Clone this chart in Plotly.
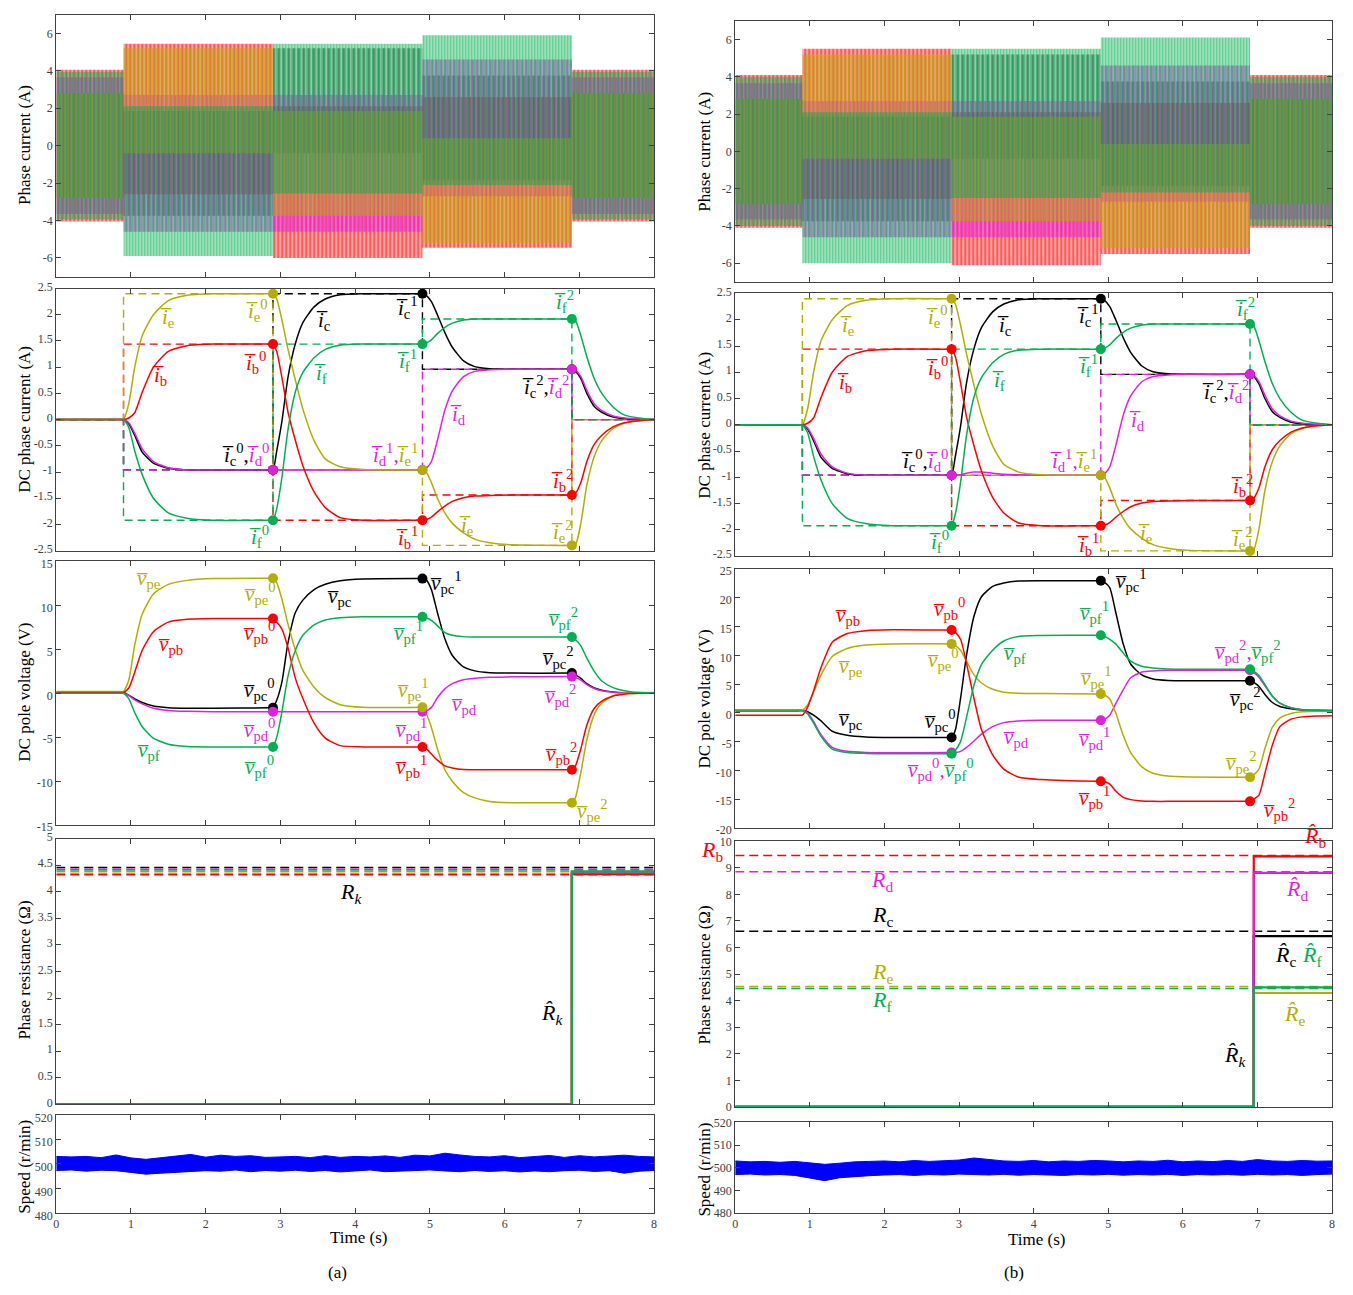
import plotly.graph_objects as go

W, H = 1353, 1295

# ======================= DATA =======================
seg_edges = [0, 0.9, 2.9, 4.9, 6.9, 8.0]
event_times = [2.9, 4.9, 6.9]

# --- phase current envelopes per segment (A) : (a)
a_ib_lo = [-4.05, -2.6, -6.0, -5.45, -4.05]
a_ib_hi = [4.05, 5.45, 2.1, 2.6, 4.05]
a_ic_lo = [-2.8, -3.75, -0.4, -1.85, -2.8]
a_ic_hi = [2.8, 1.85, 5.2, 3.75, 2.8]
a_id_lo = [-3.65, -4.6, -4.6, -2.7, -3.65]
a_id_hi = [3.65, 2.7, 2.7, 4.6, 3.65]
a_ie_lo = [-2.8, -0.4, -3.75, -5.2, -2.8]
a_ie_hi = [2.8, 5.2, 1.85, 0.4, 2.8]
a_if_lo = [-3.95, -5.9, -2.55, -2.1, -3.95]
a_if_hi = [3.95, 2.1, 5.45, 5.9, 3.95]
# --- phase current envelopes per segment (A) : (b)
b_ib_lo = [-4.1, -2.55, -6.1, -5.5, -4.1]
b_ib_hi = [4.1, 5.5, 2.1, 2.6, 4.1]
b_ic_lo = [-2.8, -3.75, -0.4, -1.85, -2.8]
b_ic_hi = [2.8, 1.85, 5.2, 3.75, 2.8]
b_id_lo = [-3.65, -4.6, -4.6, -2.7, -3.65]
b_id_hi = [3.65, 2.7, 2.7, 4.6, 3.65]
b_ie_lo = [-2.8, -0.4, -3.75, -5.2, -2.8]
b_ie_hi = [2.8, 5.2, 1.85, 0.4, 2.8]
b_if_lo = [-4.0, -6.0, -2.5, -2.2, -4.0]
b_if_hi = [4.0, 2.1, 5.5, 6.1, 4.0]

# --- DC phase current references per segment (A)
ref_ib = [0, 1.44, -1.92, -1.44, 0]
ref_ic = [0, -0.96, 2.4, 0.96, 0]
ref_id = [0, -0.96, -0.96, 0.96, 0]
ref_ie = [0, 2.4, -0.96, -2.4, 0]
ref_if = [0, -1.92, 1.44, 1.92, 0]

# --- time samples for DC curves (s)
t_dc = [0, 0.85, 0.9, 0.97, 1.05, 1.15, 1.3, 1.5, 1.75, 2.1,
        2.85, 2.9, 2.95, 3.02, 3.1, 3.2, 3.3, 3.45, 3.6, 3.8, 4.1,
        4.85, 4.9, 4.95, 5.02, 5.1, 5.2, 5.3, 5.45, 5.6, 5.8, 6.1,
        6.85, 6.9, 6.95, 7.02, 7.1, 7.2, 7.3, 7.45, 7.6, 7.8, 8.0]

# --- DC phase currents (A)
dc_ib = [0, 0, 0, 0.03, 0.13, 0.52, 1.0, 1.3, 1.41, 1.44,
         1.44, 1.44, 1.3, 0.8, 0.15, -0.4, -0.88, -1.38, -1.68, -1.87, -1.92,
         -1.92, -1.92, -1.91, -1.86, -1.76, -1.65, -1.56, -1.49, -1.46, -1.45, -1.44,
         -1.44, -1.44, -1.4, -1.2, -0.8, -0.47, -0.3, -0.14, -0.06, -0.02, 0]
dc_ic = [0, 0, 0, -0.08, -0.3, -0.62, -0.83, -0.93, -0.96, -0.96,
         -0.96, -0.96, -0.6, -0.03, 0.8, 1.45, 1.85, 2.15, 2.3, 2.38, 2.4,
         2.4, 2.4, 2.37, 2.25, 2.0, 1.66, 1.38, 1.12, 1.01, 0.97, 0.96,
         0.96, 0.96, 0.92, 0.78, 0.5, 0.25, 0.14, 0.05, 0.02, 0.0, 0]
dc_id_a = [0, 0, 0, -0.06, -0.26, -0.56, -0.8, -0.92, -0.96, -0.96,
           -0.96, -0.96, -0.96, -0.96, -0.96, -0.96, -0.96, -0.96, -0.96, -0.96, -0.96,
           -0.96, -0.96, -0.93, -0.8, -0.4, 0.18, 0.55, 0.82, 0.92, 0.95, 0.96,
           0.96, 0.96, 0.94, 0.82, 0.56, 0.3, 0.17, 0.07, 0.03, 0.01, 0]
dc_id_b = [0, 0, 0, -0.06, -0.26, -0.56, -0.8, -0.92, -0.96, -0.96,
           -0.96, -0.96, -0.96, -0.95, -0.92, -0.9, -0.9, -0.92, -0.94, -0.95, -0.96,
           -0.96, -0.96, -0.93, -0.8, -0.4, 0.18, 0.55, 0.82, 0.92, 0.95, 0.96,
           0.96, 0.96, 0.94, 0.82, 0.56, 0.3, 0.17, 0.07, 0.03, 0.01, 0]
dc_ie = [0, 0, 0, 0.3, 1.0, 1.6, 2.0, 2.27, 2.37, 2.4,
         2.4, 2.4, 2.3, 1.9, 1.35, 0.75, 0.2, -0.4, -0.75, -0.9, -0.95,
         -0.96, -0.96, -1.0, -1.2, -1.5, -1.78, -1.98, -2.16, -2.28, -2.35, -2.39,
         -2.4, -2.4, -2.38, -1.98, -1.25, -0.7, -0.4, -0.17, -0.07, -0.02, 0]
dc_if = [0, 0, 0, -0.15, -0.6, -1.05, -1.5, -1.78, -1.88, -1.92,
         -1.92, -1.92, -1.7, -1.1, -0.2, 0.53, 0.9, 1.18, 1.34, 1.42, 1.44,
         1.44, 1.44, 1.46, 1.52, 1.64, 1.76, 1.84, 1.9, 1.92, 1.92, 1.92,
         1.92, 1.92, 1.88, 1.6, 1.2, 0.78, 0.5, 0.24, 0.09, 0.03, 0]

# --- DC pole voltages (V) : (a)
a_vpb = [0.1, 0.1, 0.1, 0.6, 2.4, 4.9, 7.0, 8.1, 8.42, 8.5,
         8.5, 8.5, 8.1, 7.3, 5.2, 1.7, -0.6, -3.4, -5.1, -5.95, -6.1,
         -6.1, -6.1, -6.3, -6.9, -7.6, -8.25, -8.5, -8.68, -8.7, -8.7, -8.7,
         -8.7, -8.7, -8.2, -6.3, -3.6, -1.7, -0.9, -0.3, -0.1, 0.0, 0.0]
a_vpc = [0.1, 0.1, 0.1, -0.2, -0.65, -1.05, -1.45, -1.63, -1.7, -1.7,
         -1.65, -1.65, -0.8, 1.3, 5.7, 9.2, 10.6, 11.8, 12.4, 12.8, 13.0,
         13.05, 13.05, 12.9, 11.8, 9.2, 6.2, 4.3, 3.0, 2.55, 2.35, 2.3,
         2.3, 2.3, 2.1, 1.7, 1.1, 0.6, 0.35, 0.15, 0.05, 0.0, 0.0]
a_vpd = [0, 0, 0, -0.25, -0.75, -1.2, -1.7, -1.95, -2.05, -2.1,
         -2.1, -2.1, -2.1, -2.1, -2.1, -2.1, -2.1, -2.1, -2.1, -2.1, -2.1,
         -2.1, -2.1, -2.0, -1.6, -0.5, 0.5, 1.1, 1.55, 1.72, 1.82, 1.87,
         1.9, 1.9, 1.8, 1.5, 1.0, 0.55, 0.3, 0.12, 0.05, 0.0, 0.0]
a_vpe = [0.2, 0.2, 0.2, 1.5, 5.5, 9.0, 11.3, 12.4, 12.85, 13.05,
         13.1, 13.1, 12.6, 10.7, 7.9, 4.9, 2.6, 0.7, -0.5, -1.3, -1.6,
         -1.6, -1.6, -2.3, -3.9, -6.3, -8.7, -10.0, -11.3, -11.9, -12.3, -12.45,
         -12.45, -12.45, -11.8, -9.0, -5.3, -2.4, -1.1, -0.3, 0.0, 0.1, 0.1]
a_vpf = [0, 0, 0, -0.6, -2.2, -3.8, -5.1, -5.8, -6.05, -6.1,
         -6.1, -6.1, -5.0, -2.1, 1.9, 4.9, 6.6, 7.8, 8.35, 8.6, 8.7,
         8.7, 8.7, 8.6, 8.3, 7.7, 6.9, 6.6, 6.45, 6.4, 6.4, 6.4,
         6.4, 6.4, 6.1, 5.4, 4.0, 2.5, 1.4, 0.65, 0.3, 0.1, 0.05]
# --- DC pole voltages (V) : (b)
b_vpb = [-0.4, -0.4, -0.4, 1.0, 3.8, 7.9, 12.3, 13.8, 14.3, 14.45,
         14.4, 14.4, 14.0, 12.8, 8.6, 2.5, -2.9, -7.3, -9.8, -11.2, -11.6,
         -11.9, -11.9, -12.0, -12.4, -13.6, -14.7, -15.1, -15.35, -15.4, -15.4, -15.4,
         -15.4, -15.4, -15.0, -14.3, -10.5, -5.6, -2.4, -1.1, -0.7, -0.55, -0.5]
b_vpc = [0.5, 0.5, 0.5, 0.2, -0.4, -1.4, -3.2, -3.9, -4.2, -4.3,
         -4.3, -4.3, -3.0, 2.5, 10.0, 16.8, 20.2, 22.0, 22.6, 22.95, 23.0,
         23.0, 23.0, 22.7, 21.8, 17.5, 12.0, 8.5, 6.6, 5.9, 5.65, 5.6,
         5.6, 5.6, 5.3, 4.6, 3.2, 1.8, 1.1, 0.7, 0.5, 0.45, 0.4]
b_vpd = [0.5, 0.5, 0.5, 0.0, -1.5, -3.8, -6.0, -6.7, -6.9, -6.95,
         -6.9, -6.9, -6.9, -6.7, -6.0, -4.9, -3.7, -2.4, -1.7, -1.4, -1.3,
         -1.3, -1.3, -1.1, -0.4, 1.6, 4.0, 6.1, 7.1, 7.3, 7.4, 7.4,
         7.4, 7.4, 7.0, 6.2, 4.7, 2.9, 1.7, 0.9, 0.55, 0.4, 0.4]
b_vpe = [0.5, 0.5, 0.5, 1.4, 3.6, 6.6, 9.8, 11.2, 11.8, 12.0,
         12.0, 12.0, 11.7, 10.9, 9.0, 6.6, 5.2, 4.1, 3.6, 3.4, 3.35,
         3.3, 3.3, 3.1, 2.4, 0.0, -3.9, -6.9, -9.4, -10.5, -11.0, -11.15,
         -11.2, -11.2, -10.8, -9.8, -6.2, -2.5, -0.9, -0.1, 0.2, 0.3, 0.3]
b_vpf = [0.3, 0.3, 0.3, -0.2, -1.8, -4.1, -6.3, -6.9, -7.05, -7.1,
         -7.1, -7.1, -6.5, -5.0, -0.8, 4.8, 8.4, 10.9, 12.5, 13.3, 13.45,
         13.5, 13.5, 13.3, 12.8, 12.0, 10.4, 9.0, 8.1, 7.8, 7.65, 7.6,
         7.6, 7.6, 7.2, 6.5, 4.9, 2.9, 1.7, 0.9, 0.55, 0.4, 0.35]

# --- phase resistances (ohm): true values and estimates
a_R_true = {'b': 4.32, 'c': 4.455, 'd': 4.425, 'e': 4.35, 'f': 4.39}
a_R_est = {'b': 4.33, 'c': 4.36, 'd': 4.37, 'e': 4.34, 'f': 4.385}
b_R_true = {'b': 9.47, 'c': 6.61, 'd': 8.85, 'e': 4.53, 'f': 4.46}
b_R_est = {'b': 9.43, 'c': 6.43, 'd': 8.81, 'e': 4.29, 'f': 4.5}
a_t_est = 6.9
b_t_est = 6.95

# --- speed envelope (r/min)
t_spd = [0, 0.2, 0.4, 0.6, 0.8, 1.0, 1.2, 1.4, 1.6, 1.8, 2.0, 2.2, 2.4, 2.6, 2.8, 3.0,
         3.2, 3.4, 3.6, 3.8, 4.0, 4.2, 4.4, 4.6, 4.8, 5.0, 5.2, 5.4, 5.6, 5.8, 6.0,
         6.2, 6.4, 6.6, 6.8, 7.0, 7.2, 7.4, 7.6, 7.8, 8.0]
a_spd_hi = [503.0, 502.8, 503.0, 502.5, 503.6, 502.4, 501.8, 502.5, 503.2, 503.8, 502.7,
            503.5, 503.0, 503.3, 502.6, 502.8, 503.0, 502.5, 503.3, 502.6, 503.0, 502.8,
            503.2, 502.6, 503.5, 503.2, 504.3, 503.6, 503.0, 502.8, 503.3, 502.5, 503.0,
            503.4, 502.6, 503.3, 502.8, 503.2, 503.5, 503.0, 502.8]
a_spd_lo = [497.3, 497.5, 497.0, 497.4, 497.2, 496.5, 495.8, 496.2, 496.5, 497.0, 497.2,
            497.0, 497.5, 496.8, 497.3, 497.0, 497.4, 496.9, 497.3, 496.7, 497.0, 497.5,
            496.8, 497.1, 497.3, 497.5, 497.1, 496.8, 497.3, 496.9, 497.2, 496.7, 497.1,
            496.8, 497.2, 497.4, 496.9, 497.2, 496.2, 497.0, 497.3]
b_spd_hi = [503.0, 502.6, 502.8, 502.4, 502.8, 502.0, 501.5, 502.0, 502.6, 502.8, 503.0,
            502.6, 503.2, 502.8, 503.0, 503.4, 504.3, 503.5, 503.0, 502.8, 503.2, 502.6,
            503.0, 502.8, 503.2, 503.0, 502.6, 503.0, 502.8, 503.3, 502.6, 503.0, 502.7,
            503.2, 502.8, 503.6, 503.0, 502.8, 503.2, 502.9, 503.0]
b_spd_lo = [497.0, 497.2, 496.8, 497.0, 496.6, 495.5, 494.3, 495.6, 496.2, 496.5, 496.8,
            497.0, 496.6, 497.0, 496.8, 497.2, 497.0, 496.8, 497.1, 496.7, 497.0, 496.9,
            496.6, 497.0, 496.8, 497.1, 496.7, 497.0, 496.8, 497.1, 496.6, 497.0, 496.8,
            497.0, 496.7, 497.1, 496.8, 497.0, 496.6, 497.0, 497.2]

# ======================= STYLE =======================
COL = {'b': '#FF0000', 'c': '#000000', 'd': '#E11FE1', 'e': '#B3AD00', 'f': '#00B050'}
RGB = {'b': (255, 0, 0), 'c': (0, 0, 0), 'd': (225, 31, 225), 'e': (179, 173, 0), 'f': (0, 176, 80)}
TINT = {'b': 0.35, 'c': 0.12, 'd': 0.38, 'e': 0.35, 'f': 0.33}
SERIF = 'Liberation Serif'
OV = '\u0305'
HAT = '\u0302'
TICKC = '#404040'

col_px = [(53.5, 654.0), (735.5, 1335.0)]
row_px = [[(5.7, 271.7), (283.7, 549.7), (560.7, 828.3), (842.0, 1111.7), (1122.0, 1222.0)],
          [(12.0, 277.0), (288.7, 555.3), (568.5, 831.0), (844.7, 1114.3), (1130.0, 1222.0)]]
y_ranges = [[(-7, 7), (-2.5, 2.5), (-15, 15), (0, 5), (480, 520)],
            [(-7, 7), (-2.5, 2.5), (-20, 25), (0, 10), (480, 520)]]
y_ticks = [[[-6, -4, -2, 0, 2, 4, 6],
            [-2.5, -2, -1.5, -1, -0.5, 0, 0.5, 1, 1.5, 2, 2.5],
            [-15, -10, -5, 0, 5, 10, 15],
            [0, 0.5, 1, 1.5, 2, 2.5, 3, 3.5, 4, 4.5, 5],
            [480, 490, 500, 510, 520]],
           [[-6, -4, -2, 0, 2, 4, 6],
            [-2.5, -2, -1.5, -1, -0.5, 0, 0.5, 1, 1.5, 2, 2.5],
            [-20, -15, -10, -5, 0, 5, 10, 15, 20, 25],
            [0, 1, 2, 3, 4, 5, 6, 7, 8, 9, 10],
            [480, 490, 500, 510, 520]]]
# small pixel nudges (screen-down positive) so labels of stacked panels do not collide
label_shift = [[0, -2, 2, -2, 3], [0, -2, 2, 0, 0]]
x_ticks = [0, 1, 2, 3, 4, 5, 6, 7, 8]


def fmt(v):
    return '%g' % v  # plain hyphen-minus as in the reference


fig = go.Figure()
layout = dict(width=W, height=H, margin=dict(l=0, r=0, t=0, b=0),
              paper_bgcolor='white', plot_bgcolor='white', showlegend=False)


def axid(p, r):
    return p * 5 + r + 1


def xname(i):
    return 'x' if i == 1 else 'x%d' % i


def yname(i):
    return 'y' if i == 1 else 'y%d' % i


for p in range(2):
    for r in range(5):
        i = axid(p, r)
        x0, x1 = col_px[p]
        y0, y1 = row_px[p][r]
        layout['xaxis' if i == 1 else 'xaxis%d' % i] = dict(
            domain=[x0 / W, x1 / W], anchor=yname(i), range=[0, 8],
            tickvals=x_ticks, ticktext=[fmt(v) for v in x_ticks],
            showticklabels=(r == 4), ticks='inside', ticklen=5, tickcolor=TICKC,
            showline=True, linecolor=TICKC, linewidth=1, mirror='ticks',
            showgrid=False, zeroline=False,
            tickfont=dict(family=SERIF, size=12, color=TICKC))
        layout['yaxis' if i == 1 else 'yaxis%d' % i] = dict(
            domain=[1 - y1 / H, 1 - y0 / H], anchor=xname(i), range=list(y_ranges[p][r]),
            tickvals=y_ticks[p][r], ticktext=[fmt(v) for v in y_ticks[p][r]],
            ticks='inside', ticklen=5, tickcolor=TICKC, ticklabelshift=label_shift[p][r],
            showline=True, linecolor=TICKC, linewidth=1, mirror='ticks',
            showgrid=False, zeroline=False,
            tickfont=dict(family=SERIF, size=12, color=TICKC))


def add(tr, i):
    tr.xaxis = xname(i)
    tr.yaxis = yname(i)
    fig.add_trace(tr)


# ---------- row 1 : phase currents (envelopes of the dense sinusoids) ----------
env = {0: {'b': (a_ib_lo, a_ib_hi), 'c': (a_ic_lo, a_ic_hi), 'd': (a_id_lo, a_id_hi),
           'e': (a_ie_lo, a_ie_hi), 'f': (a_if_lo, a_if_hi)},
       1: {'b': (b_ib_lo, b_ib_hi), 'c': (b_ic_lo, b_ic_hi), 'd': (b_id_lo, b_id_hi),
           'e': (b_ie_lo, b_ie_hi), 'f': (b_if_lo, b_if_hi)}}
pat_size = {'b': 4, 'c': 5, 'd': 4.5, 'e': 3.5, 'f': 3}
for p in range(2):
    for ph in ['b', 'c', 'd', 'e', 'f']:
        lo, hi = env[p][ph]
        xs, ys = [], []
        for k in range(len(lo)):
            xs += [seg_edges[k], seg_edges[k + 1]]
            ys += [hi[k], hi[k]]
        for k in reversed(range(len(lo))):
            xs += [seg_edges[k + 1], seg_edges[k]]
            ys += [lo[k], lo[k]]
        rr, gg, bb = RGB[ph]
        add(go.Scatter(x=xs, y=ys, mode='lines', fill='toself', line=dict(width=0),
                       fillcolor='rgba(%d,%d,%d,%.2f)' % (rr, gg, bb, TINT[ph]),
                       fillpattern=dict(shape='|', fgcolor=COL[ph], fillmode='overlay',
                                        size=pat_size[ph], solidity=0.45)), axid(p, 0))

# ---------- rows 2 and 3 : DC phase currents and DC pole voltages ----------
refs = {'b': ref_ib, 'c': ref_ic, 'd': ref_id, 'e': ref_ie, 'f': ref_if}
dc = {0: {'b': dc_ib, 'c': dc_ic, 'd': dc_id_a, 'e': dc_ie, 'f': dc_if},
      1: {'b': dc_ib, 'c': dc_ic, 'd': dc_id_b, 'e': dc_ie, 'f': dc_if}}
volt = {0: {'b': a_vpb, 'c': a_vpc, 'd': a_vpd, 'e': a_vpe, 'f': a_vpf},
        1: {'b': b_vpb, 'c': b_vpc, 'd': b_vpd, 'e': b_vpe, 'f': b_vpf}}
order = ['c', 'd', 'e', 'b', 'f']
ev_idx = [t_dc.index(t) for t in event_times]
for p in range(2):
    i = axid(p, 1)
    for ph in ['b', 'c', 'd', 'e', 'f']:
        ref = refs[ph]
        add(go.Scatter(x=seg_edges, y=ref + [ref[-1]], mode='lines', line_shape='hv',
                       line=dict(color=COL[ph], width=1.4, dash='8px,5px')), i)
    for ph in order:
        add(go.Scatter(x=t_dc, y=dc[p][ph], mode='lines', line_shape='spline',
                       line=dict(color=COL[ph], width=1.5, smoothing=0.6)), i)
    for ph in order:
        add(go.Scatter(x=[t_dc[j] for j in ev_idx], y=[dc[p][ph][j] for j in ev_idx],
                       mode='markers', marker=dict(color=COL[ph], size=10)), i)
    i = axid(p, 2)
    for ph in order:
        add(go.Scatter(x=t_dc, y=volt[p][ph], mode='lines', line_shape='spline',
                       line=dict(color=COL[ph], width=1.5, smoothing=0.6)), i)
    for ph in order:
        add(go.Scatter(x=[t_dc[j] for j in ev_idx], y=[volt[p][ph][j] for j in ev_idx],
                       mode='markers', marker=dict(color=COL[ph], size=10)), i)

# ---------- row 4 : resistances ----------
Rt = {0: a_R_true, 1: b_R_true}
Re = {0: a_R_est, 1: b_R_est}
test = {0: a_t_est, 1: b_t_est}
r_order = {0: ['c', 'd', 'e', 'b', 'f'], 1: ['b', 'c', 'e', 'd', 'f']}
for p in range(2):
    i = axid(p, 3)
    for ph in r_order[p]:
        v = Rt[p][ph]
        add(go.Scatter(x=[0, 8], y=[v, v], mode='lines',
                       line=dict(color=COL[ph], width=1.5, dash='9px,5px')), i)
    for ph in r_order[p]:
        v = Re[p][ph]
        te = test[p]
        add(go.Scatter(x=[0, te, te, 8], y=[0, 0, v, v], mode='lines',
                       line=dict(color=COL[ph], width=2.2)), i)

# ---------- row 5 : speed ----------
spd = {0: (a_spd_lo, a_spd_hi), 1: (b_spd_lo, b_spd_hi)}
for p in range(2):
    i = axid(p, 4)
    lo, hi = spd[p]
    add(go.Scatter(x=t_spd, y=lo, mode='lines', line=dict(color='#0000FF', width=1)), i)
    add(go.Scatter(x=t_spd, y=hi, mode='lines', fill='tonexty', fillcolor='#0000FF',
                   line=dict(color='#0000FF', width=1)), i)

# ======================= ANNOTATIONS =======================
anns = []
LS = 21


def lab(i, t, v, text, color, size=LS, yanchor='middle'):
    anns.append(dict(x=t, y=v, xref=xname(i), yref=yname(i), text=text, showarrow=False,
                     xanchor='center', yanchor=yanchor,
                     font=dict(family=SERIF, size=size, color=color)))


def ib(s, sup=None):
    t = '<i>i' + OV + '</i><sub>' + s + '</sub>'
    if sup is not None:
        t += '<sup>' + str(sup) + '</sup>'
    return t


def vb(s, sup=None):
    t = '<i>v' + OV + '</i><sub>p' + s + '</sub>'
    if sup is not None:
        t += '<sup>' + str(sup) + '</sup>'
    return t


def colored(txt, ph):
    return '<span style="color:%s">%s</span>' % (COL[ph], txt)


cur_labels = {
    0: [(1.49, 1.94, ib('e'), 'e'), (2.69, 2.09, ib('e', 0), 'e'), (1.38, 0.83, ib('b'), 'b'),
        (2.66, 1.09, ib('b', 0), 'b'), (3.58, 1.88, ib('c'), 'c'), (3.53, 0.87, ib('f'), 'f'),
        (4.70, 2.14, ib('c', 1), 'c'), (4.69, 1.13, ib('f', 1), 'f'), (6.79, 2.26, ib('f', 2), 'f'),
        (5.38, 0.08, ib('d'), 'd'), (2.71, -2.23, ib('f', 0), 'f'), (6.77, -1.16, ib('b', 2), 'b'),
        (4.69, -2.25, ib('b', 1), 'b'), (5.49, -2.03, ib('e'), 'e'), (6.77, -2.14, ib('e', 2), 'e')],
    1: [(1.50, 1.88, ib('e'), 'e'), (2.70, 2.06, ib('e', 0), 'e'), (1.46, 0.79, ib('b'), 'b'),
        (2.70, 1.09, ib('b', 0), 'b'), (3.61, 1.88, ib('c'), 'c'), (3.53, 0.84, ib('f'), 'f'),
        (4.73, 2.08, ib('c', 1), 'c'), (4.73, 1.13, ib('f', 1), 'f'), (6.83, 2.21, ib('f', 2), 'f'),
        (5.39, 0.08, ib('d'), 'd'), (2.73, -2.23, ib('f', 0), 'f'), (6.79, -1.16, ib('b', 2), 'b'),
        (4.73, -2.27, ib('b', 1), 'b'), (5.50, -2.08, ib('e'), 'e'), (6.79, -2.16, ib('e', 2), 'e')]}
pair_cur = {0: [(6.55, 0.64, 'c', 'd', 2), (2.53, -0.67, 'c', 'd', 0), (4.53, -0.67, 'd', 'e', 1)],
            1: [(6.57, 0.64, 'c', 'd', 2), (2.54, -0.68, 'c', 'd', 0), (4.53, -0.68, 'd', 'e', 1)]}
for p in range(2):
    i = axid(p, 1)
    for t, v, txt, ph in cur_labels[p]:
        lab(i, t, v, txt, COL[ph])
    for t, v, p1, p2, s in pair_cur[p]:
        lab(i, t, v, ib(p1, s) + ',' + colored(ib(p2, s), p2), COL[p1])

volt_labels = {
    0: [(1.23, 13.0, vb('e'), 'e'), (2.73, 11.4, vb('e', 0), 'e'), (1.53, 5.5, vb('b'), 'b'),
        (2.71, 6.9, vb('b', 0), 'b'), (3.79, 11.0, vb('c'), 'c'), (5.21, 12.6, vb('c', 1), 'c'),
        (4.71, 6.9, vb('f', 1), 'f'), (6.78, 8.5, vb('f', 2), 'f'), (6.71, 4.1, vb('c', 2), 'c'),
        (2.71, 0.4, vb('c', 0), 'c'), (4.77, 0.4, vb('e', 1), 'e'), (5.45, -1.3, vb('d'), 'd'),
        (6.74, -0.3, vb('d', 2), 'd'), (2.71, -4.1, vb('d', 0), 'd'), (4.75, -4.1, vb('d', 1), 'd'),
        (1.23, -6.6, vb('f'), 'f'), (2.71, -8.3, vb('f', 0), 'f'), (4.75, -8.3, vb('b', 1), 'b'),
        (6.75, -6.9, vb('b', 2), 'b'), (7.17, -13.3, vb('e', 2), 'e')],
    1: [(1.50, 16.9, vb('b'), 'b'), (2.86, 18.2, vb('b', 0), 'b'), (1.55, 7.9, vb('e'), 'e'),
        (2.78, 9.3, vb('e', 0), 'e'), (1.54, -1.3, vb('c'), 'c'), (2.75, -1.3, vb('c', 0), 'c'),
        (3.74, 10.3, vb('f'), 'f'), (5.30, 23.0, vb('c', 1), 'c'), (4.81, 17.5, vb('f', 1), 'f'),
        (4.83, 6.2, vb('e', 1), 'e'), (3.77, -4.4, vb('d'), 'd'), (4.81, -4.4, vb('d', 1), 'd'),
        (4.81, -14.7, vb('b', 1), 'b'), (6.83, 2.5, vb('c', 2), 'c'), (6.78, -8.7, vb('e', 2), 'e'),
        (7.29, -16.8, vb('b', 2), 'b')]}
for p in range(2):
    i = axid(p, 2)
    for t, v, txt, ph in volt_labels[p]:
        lab(i, t, v, txt, COL[ph])
lab(axid(1, 2), 2.75, -9.9, vb('d', 0) + ',' + colored(vb('f', 0), 'f'), COL['d'])
lab(axid(1, 2), 6.86, 10.7, vb('d', 2) + ',' + colored(vb('f', 2), 'f'), COL['d'])


def R(s, hat=False, k=False):
    base = '<i>R' + (HAT if hat else '') + '</i>'
    sub = '<i>k</i>' if k else s
    return base + '<sub>' + sub + '</sub>'


RS = 22
lab(axid(0, 3), 3.94, 3.98, R('', k=True), '#000000', RS)
lab(axid(0, 3), 6.63, 1.7, R('', hat=True, k=True), '#000000', RS)
i = axid(1, 3)
anns.append(dict(x=712 / W, y=1 - 855 / H, xref='paper', yref='paper', text=R('b'), showarrow=False,
                 xanchor='center', yanchor='middle',
                 font=dict(family=SERIF, size=RS, color=COL['b'])))
lab(i, 7.77, 9.55, R('b', hat=True), COL['b'], RS, yanchor='bottom')
lab(i, 1.97, 8.5, R('d'), COL['d'], RS)
lab(i, 7.53, 8.15, R('d', hat=True), COL['d'], RS)
lab(i, 1.97, 7.2, R('c'), COL['c'], RS)
lab(i, 7.37, 5.7, R('c', hat=True), COL['c'], RS)
lab(i, 7.73, 5.7, R('f', hat=True), COL['f'], RS)
lab(i, 1.97, 5.04, R('e'), COL['e'], RS)
lab(i, 1.97, 4.0, R('f'), COL['f'], RS)
lab(i, 7.5, 3.45, R('e', hat=True), COL['e'], RS)
lab(i, 6.7, 1.9, R('', hat=True, k=True), '#000000', RS)


def ptext(x, y, text, angle=0, size=17):
    anns.append(dict(x=x / W, y=1 - y / H, xref='paper', yref='paper', text=text, showarrow=False,
                     xanchor='center', yanchor='middle', textangle=angle,
                     font=dict(family=SERIF, size=size, color='#000000')))


ytitles = ['Phase current (A)', 'DC phase current (A)', 'DC pole voltage (V)',
           'Phase resistance (\u03a9)', 'Speed (r/min)']
ty = [[138, 416, 693, 975, 1175], [145, 422, 700, 980, 1178]]
tx = [22, 705]
for p in range(2):
    for r in range(5):
        ptext(tx[p], ty[p][r], ytitles[r], angle=-90)
ptext(357, 1247, 'Time (s)')
ptext(1038, 1249, 'Time (s)')
ptext(336, 1282, '(a)')
ptext(1016, 1282, '(b)')

layout['annotations'] = anns
fig.update_layout(**layout)
fig.write_html('out.html', config={'displayModeBar': False},
               post_script="document.body.style.margin='0px';"
                           "document.documentElement.style.overflow='hidden';"
                           "document.body.style.overflow='hidden';")
